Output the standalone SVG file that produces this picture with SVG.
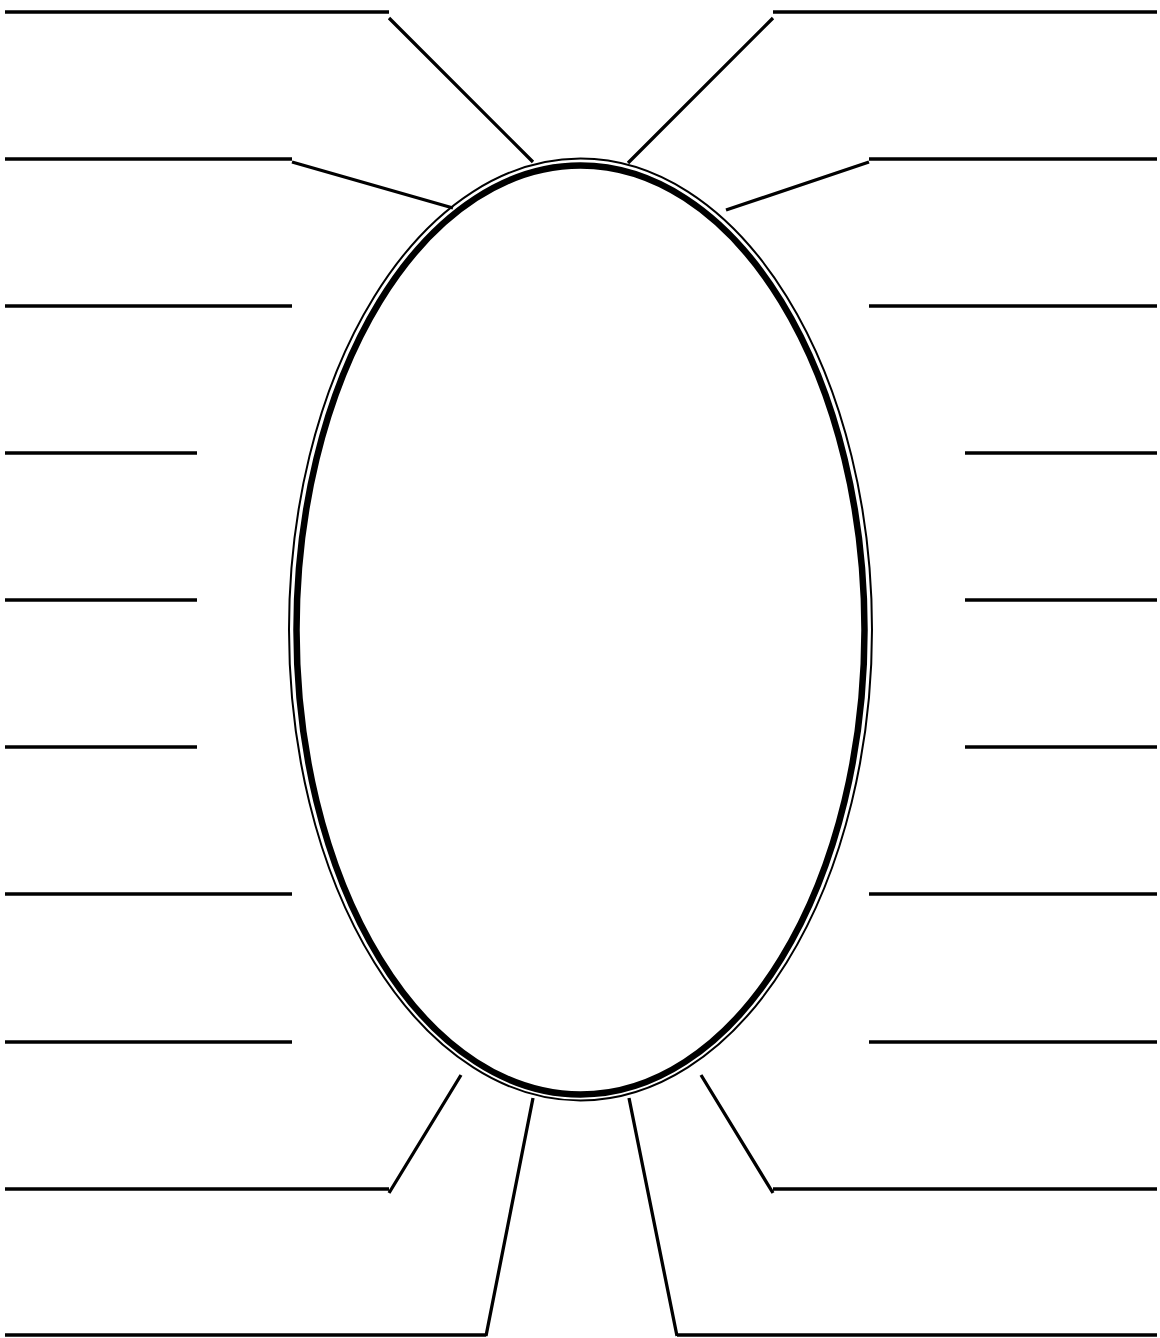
<svg xmlns="http://www.w3.org/2000/svg" width="1160" height="1338" viewBox="0 0 1160 1338">
<style>
.ln{stroke:#000;stroke-width:3.3;fill:none;stroke-linecap:butt}
.thick{stroke:#000;stroke-width:6.5;fill:none}
.thin{stroke:#000;stroke-width:2;fill:none}
</style>
<rect width="1160" height="1338" fill="#fff"/>
<g id="center-oval">
<ellipse class="thin" cx="580.5" cy="629.5" rx="291.5" ry="471"/>
<ellipse class="thick" cx="580.5" cy="630" rx="284" ry="464.5" fill="#fff"/>
</g>
<g id="connectors">
<path class="ln" d="M5 12H389M389 18L533 162"/>
<path class="ln" d="M5 159H292M292 162L453 208"/>
<path class="ln" d="M5 306H292"/>
<path class="ln" d="M5 453H197"/>
<path class="ln" d="M5 600H197"/>
<path class="ln" d="M5 747H197"/>
<path class="ln" d="M5 894H292"/>
<path class="ln" d="M5 1042H292"/>
<path class="ln" d="M5 1189H389M389 1193L461 1075"/>
<path class="ln" d="M5 1335H486M486 1336L533 1098"/>
<path class="ln" d="M1157 12H773M773 18L628 163"/>
<path class="ln" d="M1157 159H869M869 162L726 210"/>
<path class="ln" d="M1157 306H869"/>
<path class="ln" d="M1157 453H965"/>
<path class="ln" d="M1157 600H965"/>
<path class="ln" d="M1157 747H965"/>
<path class="ln" d="M1157 894H869"/>
<path class="ln" d="M1157 1042H869"/>
<path class="ln" d="M1157 1189H773M773 1193L701 1075"/>
<path class="ln" d="M1157 1335H677M677 1336L629 1098"/>
</g>
</svg>
